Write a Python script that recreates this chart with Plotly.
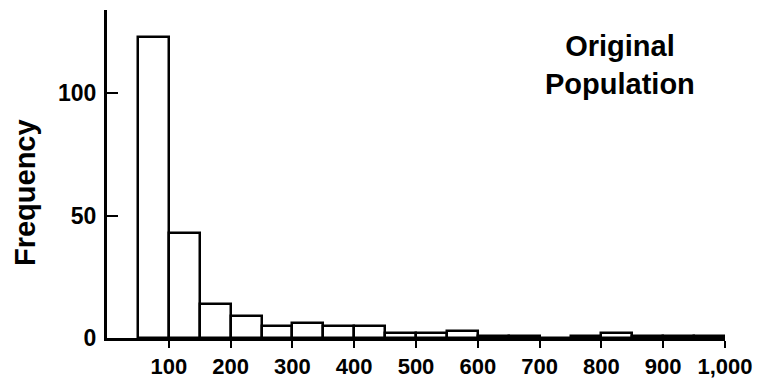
import plotly.graph_objects as go

# Histogram of the original population: class intervals of width 50
bin_starts = [50, 100, 150, 200, 250, 300, 350, 400, 450, 500, 550,
              600, 650, 700, 750, 800, 850, 900, 950]
frequencies = [123, 43, 14, 9, 5, 6, 5, 5, 2, 2, 3,
               1, 1, 0, 1, 2, 1, 1, 1]
bin_width = 50

x_tick_values = [100, 200, 300, 400, 500, 600, 700, 800, 900, 1000]
x_tick_labels = ["100", "200", "300", "400", "500", "600", "700", "800", "900", "1,000"]
y_tick_values = [0, 50, 100]
y_tick_labels = ["0", "50", "100"]

FONT = "Liberation Sans"

fig = go.Figure(
    go.Bar(
        x=[s + bin_width / 2 for s in bin_starts],
        y=frequencies,
        width=bin_width,
        marker=dict(color="white", line=dict(color="black", width=2.5)),
        showlegend=False,
        hoverinfo="x+y",
    )
)

fig.update_layout(
    width=771,
    height=381,
    margin=dict(l=107, r=46, t=10, b=43),
    paper_bgcolor="white",
    plot_bgcolor="white",
    bargap=0,
    font=dict(family=FONT, color="black"),
    xaxis=dict(
        range=[0, 1000],
        automargin=False,
        tickmode="array",
        tickvals=x_tick_values,
        ticktext=x_tick_labels,
        ticks="outside",
        ticklen=7,
        tickwidth=2,
        tickcolor="black",
        showline=True,
        linecolor="black",
        linewidth=3,
        showgrid=False,
        zeroline=False,
        ticklabelstandoff=0,
        tickfont=dict(family=FONT, size=22, color="black", weight="bold"),
    ),
    yaxis=dict(
        range=[0, 134],
        automargin=False,
        tickmode="array",
        tickvals=y_tick_values,
        ticktext=y_tick_labels,
        ticks="inside",
        ticklen=11,
        tickwidth=2,
        tickcolor="black",
        showline=True,
        linecolor="black",
        linewidth=3,
        showgrid=False,
        zeroline=False,
        ticklabelstandoff=3,
        tickfont=dict(family=FONT, size=23, color="black", weight="bold"),
    ),
    annotations=[
        dict(
            text="Frequency",
            textangle=-90,
            xref="paper", yref="paper",
            x=-0.1327, y=0.445,
            xanchor="center", yanchor="middle",
            showarrow=False,
            font=dict(family=FONT, size=29, color="black", weight="bold"),
        ),
        dict(
            text="Original<br>Population",
            xref="paper", yref="paper",
            x=0.83, y=0.832,
            xanchor="center", yanchor="middle",
            align="center",
            showarrow=False,
            font=dict(family=FONT, size=29, color="black", weight="bold"),
        ),
    ],
)

fig.write_html("out.html")
